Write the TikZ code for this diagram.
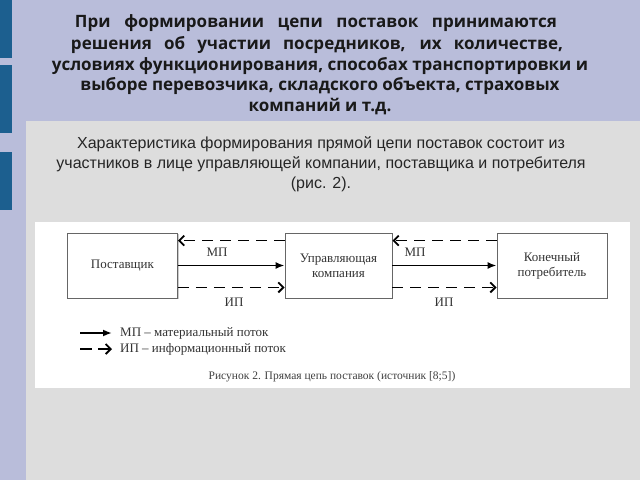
\documentclass[tikz,border=0pt]{standalone}
\usepackage{fontspec}
\usetikzlibrary{arrows.meta,shadows}
\newfontfamily\titlefont{Open Sans}
\newfontfamily\slidefont{Liberation Sans}
\newfontfamily\figfont{Liberation Serif}
\definecolor{lavender}{HTML}{B9BDDA}
\definecolor{barblue}{HTML}{1C5F8F}
\definecolor{panelgray}{HTML}{DDDDDD}
\definecolor{inkgray}{HTML}{333333}

\begin{document}
\begin{tikzpicture}[x=1bp,y=-1bp,
  titleline/.style={font=\titlefont\bfseries\fontsize{17bp}{21bp}\selectfont, text=black!90, inner sep=0pt},
  box/.style={draw=gray!80!black, line width=0.8bp, fill=white, minimum width=110bp, minimum height=65bp, align=center,
    font=\figfont\fontsize{13bp}{15bp}\selectfont, text=inkgray,
    drop shadow={shadow xshift=1.2bp, shadow yshift=-1.2bp, fill=black!40}},
  figtext/.style={font=\figfont\fontsize{13bp}{15bp}\selectfont, text=inkgray, inner sep=1bp},
  matflow/.style={line width=1.8bp, -{Latex[length=9bp,width=7bp]}},
  infoflow/.style={line width=1.8bp, dash pattern=on 11bp off 7bp, -{Straight Barb[length=5bp,width=10bp]}}]
\useasboundingbox (0,0) rectangle (640,480);
\fill[lavender] (0,0) rectangle (640,480);
\fill[barblue] (0,0) rectangle (12,58);
\fill[barblue] (0,65) rectangle (12,133);
\fill[barblue] (0,152) rectangle (12,210);
\fill[panelgray] (26,121) rectangle (640,480);
\fill[white] (35,222) rectangle (630,388);

\node[titleline] (t1) at (316,23) {\makebox[482bp][s]{При формировании цепи поставок принимаются}};
\node[titleline] (t2) at (317,45) {\makebox[492bp][s]{решения об участии посредников, их количестве,}};
\node[titleline] (t3) at (320,66) {условиях функционирования, способах транспортировки и};
\node[titleline] (t4) at (320,86) {выборе перевозчика, складского объекта, страховых};
\node[titleline] (t5) at (320,107) {компаний и т.д.};

\node[font=\slidefont\fontsize{16bp}{20bp}\selectfont, text=black!85, align=center] (intro) at (321,164)
  {Характеристика формирования прямой цепи поставок состоит из\\
   участников в лице управляющей компании, поставщика и потребителя\\
   (рис. 2).};

\node[box] (sup) at (122.5,265.5) {Поставщик};
\node[box, minimum width=107bp] (mgmt) at (338.5,265.5) {Управляющая\\компания};
\node[box] (cons) at (552,265.5) {Конечный\\потребитель};

\draw[infoflow] ([yshift=-8bp]mgmt.north west) -- ([yshift=-8bp]sup.north east);
\draw[matflow] (sup) -- (mgmt);
\draw[infoflow] ([yshift=11bp]sup.south east) -- ([yshift=11bp]mgmt.south west);
\draw[infoflow] ([yshift=-8bp]cons.north west) -- ([yshift=-8bp]mgmt.north east);
\draw[matflow] (mgmt) -- (cons);
\draw[infoflow] ([yshift=11bp]mgmt.south east) -- ([yshift=11bp]cons.south west);

\node[figtext] (mp1) at (217,252) {МП};
\node[figtext] (ip1) at (234,302) {ИП};
\node[figtext] (mp2) at (415,252) {МП};
\node[figtext] (ip2) at (444,302) {ИП};

\coordinate (lgm1) at (80,333);
\coordinate (lgm2) at (112,333);
\coordinate (lgi1) at (80,349);
\coordinate (lgi2) at (112,349);
\draw[matflow] (lgm1) -- (lgm2);
\draw[infoflow, dash pattern=on 12bp off 6bp] (lgi1) -- (lgi2);
\node[figtext, anchor=west] (lgmtext) at (119,333) {МП – материальный поток};
\node[figtext, anchor=west] (lgitext) at (119,349) {ИП – информационный поток};

\node[font=\figfont\fontsize{11.5bp}{14bp}\selectfont, text=black!75] (caption) at (332,377)
  {Рисунок 2. Прямая цепь поставок (источник [8;5])};
\end{tikzpicture}
\end{document}
